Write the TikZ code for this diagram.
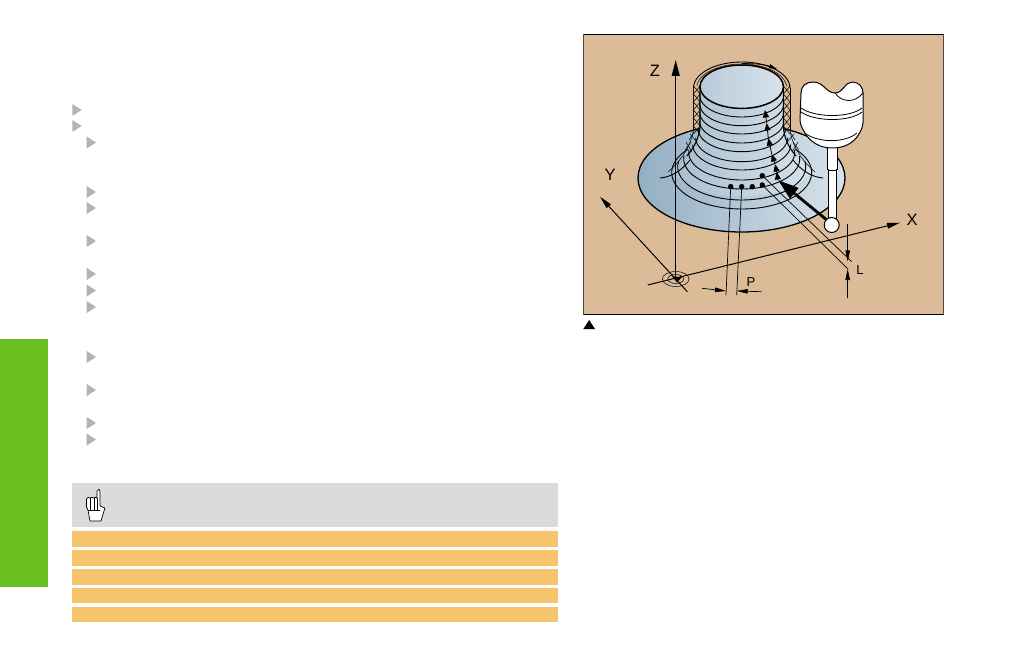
\documentclass[tikz,border=0pt]{standalone}
\usepackage{fontspec}
\setmainfont{Liberation Sans}
\usetikzlibrary{arrows.meta}
\definecolor{panelbg}{HTML}{DCBC98}
\definecolor{tabgreen}{HTML}{6ABF20}
\definecolor{rowgold}{HTML}{F6C56B}
\definecolor{notegray}{HTML}{DBDBDB}
\definecolor{bulletgray}{HTML}{B3B3B3}
\definecolor{steeldark}{HTML}{93AEC3}
\definecolor{steellight}{HTML}{D8E3EB}
\tikzset{
  bulletmark/.style={fill=bulletgray,draw=none},
  axisline/.style={line width=1pt,-{Triangle[length=16pt,width=8pt]}},
  ringline/.style={line width=0.9pt},
  hatchline/.style={line width=0.5pt},
  dimline/.style={line width=0.7pt},
  dimtip/.style={-{Triangle[length=11pt,width=4.5pt]}},
  axislabel/.style={font=\fontsize{16.5}{18}\selectfont,inner sep=0pt},
  dimlabel/.style={font=\fontsize{13}{15}\selectfont,inner sep=0pt},
  pathdot/.style={circle,fill=black,inner sep=0pt,minimum size=5.5pt},
  climbtip/.style={line width=0.8pt,-{Triangle[length=7.5pt,width=6pt]}}
}
\begin{document}
\begin{tikzpicture}[x=1pt,y=-1pt]
  \useasboundingbox (0,0) rectangle (1012,655);
  \fill[white] (0,0) rectangle (1012,655);
  % left page
  \fill[tabgreen] (0,339) rectangle (48,587);
  \foreach \y in {110,126}
    \fill[bulletmark] (72.3,\y-6) -- (81.7,\y) -- (72.3,\y+6) -- cycle;
  \foreach \y in {142.5,192,208,241,274,290.5,307,357,390,423,439.5}
    \fill[bulletmark] (86.7,\y-6) -- (96,\y) -- (86.7,\y+6) -- cycle;
  \fill[notegray] (72,483) rectangle (558,527);
  \foreach \a/\b in {531/547,550/566,569/585,588/603,607/622}
    \fill[rowgold] (72,\a) rectangle (558,\b);
  % hand
  \draw[fill=white,line width=0.7pt,line join=round] (97,491) .. controls (98,488.5) and (100,488.5) .. (100,491)
    -- (100,506) -- (105,508) -- (104,511) -- (101,521) -- (90,521) -- (88,510) -- (86.5,507) -- (86.5,499)
    .. controls (87,497) and (89,497) .. (90,498) .. controls (91,497) and (93,497) .. (94,498)
    .. controls (95,497) and (96,497) .. (97,498) -- cycle;
  \draw[line width=0.6pt] (90,498) -- (90,510) (94,498) -- (94,510) (97,498) -- (97,510) (88,510) -- (100,510);
  % panel
  \draw[fill=panelbg,line width=0.8pt,draw=black!70] (583.5,34.5) rectangle (943,314);
  \draw[line width=0.8pt] (583.5,34.5) -- (943,34.5) (583.5,314) -- (943,314);
  \fill[black] (583.3,329) -- (589.2,320) -- (595,329) -- cycle;
  % flange
  \draw[line width=1.3pt,left color=steeldark,right color=steellight] (741.5,178) ellipse [x radius=103.5,y radius=54];
  % cutter envelope behind the neck
  \foreach \y in {86,94,...,126} {
    \draw[hatchline] (693.5,\y) -- (700,\y+8) (700,\y) -- (693.5,\y+8);
    \draw[hatchline] (783.5,\y) -- (790,\y+8) (790,\y) -- (783.5,\y+8);
  }
  \draw[ringline] (693.5,88) -- (693.5,130) (790,88) -- (790,130);
  \draw[ringline] plot[domain=180:360,samples=50] ({741.7+48.2*cos(\x)},{88+26*sin(\x)});
  \draw[hatchline] plot[domain=185:355,samples=50] ({741.7+45*cos(\x)},{88+24*sin(\x)});
  \draw[-{Triangle[length=8pt,width=4pt]},line width=0.7pt] (741.7,63.5) .. controls (755,63.5) and (765,64.5) .. (777,69);
  % neck
  \path[left color=steeldark!70!steellight,right color=steellight]
    (700,87) -- (700,127) .. controls (698,145) and (688,160) .. (672,170)
    .. controls (690,205) and (793,205) .. (812,170)
    .. controls (795,160) and (785,145) .. (783.4,127) -- (783.4,87) -- cycle;
  \draw[line width=1.1pt] (700,87) -- (700,127) .. controls (699,138) and (694,148) .. (687,156);
  \draw[line width=1.1pt] (783.4,87) -- (783.4,127) .. controls (784,138) and (789,148) .. (796,156);
  % lower envelope of the flare
  \draw[hatchline] (693.5,130) .. controls (691,145) and (682,160) .. (668,172);
  \draw[hatchline] (790,130) .. controls (792,145) and (801,160) .. (815,172);
  \foreach \x/\y/\u/\v in {694/132/689/140,690/134/697/142,691/142/685/150,686/142/692/152,
                           790/132/795/140,794/134/787/142,793/142/799/150,798/142/792/152}
    \draw[hatchline] (\x,\y) -- (\u,\v);
  % tool path rings
  \foreach \b/\r/\e in {117/42/0,125.7/42/0,134/42/0,143/42.2/0,151.7/43.5/0,161.7/46/0,170/49/0,180/53/5,189/58/5,200/64/10,209/70/40} {
    \draw[ringline] plot[domain=-\e:180+\e,samples=50] ({741.7+\r*cos(\x)},{\b-\r*0.52+\r*0.52*sin(\x)});
  }
  \draw[ringline] (660,178) .. controls (672,177) and (682,170) .. (690,160);
  \draw[ringline] (823,178) .. controls (811,177) and (801,170) .. (793,160);
  % top face
  \draw[line width=1.5pt,left color=steeldark!45!steellight,right color=steellight] (741.7,86.7) ellipse [x radius=41.7,y radius=21.7];
  % axes
  \coordinate (origin) at (675.7,279);
  \coordinate (ztip) at (675.7,60);
  \coordinate (xtail) at (647.7,285);
  \coordinate (xtip) at (900,222.7);
  \coordinate (ytail) at (687.3,291.7);
  \coordinate (ytip) at (600,196.7);
  \draw[axisline] (origin) -- (ztip);
  \draw[axisline,-{Triangle[length=13pt,width=5.5pt]}] (xtail) -- (xtip);
  \draw[axisline,-{Triangle[length=13pt,width=5.5pt]}] (ytail) -- (ytip);
  \draw[line width=0.5pt] (origin) ellipse [x radius=13.3,y radius=7.5];
  \draw[line width=0.5pt] (origin) ellipse [x radius=8,y radius=4.5];
  \fill[black] (672,276.5) -- (682,277) -- (677,282.5) -- cycle;
  \node[axislabel] (zlabel) at (655,70.7) {Z};
  \node[axislabel] (ylabel) at (610,175) {Y};
  \node[axislabel] (xlabel) at (912,220) {X};
  % probe
  \draw[fill=white,line width=1pt,line join=round] (827,146) -- (827,170) -- (828,170) -- (828,220) -- (836,220) -- (836,170) -- (837,170) -- (837,146) -- cycle;
  \draw[line width=0.7pt] (828,170) -- (836,170);
  \draw[fill=white,line width=1pt,line join=round] (801,93)
    .. controls (801,86) and (806,82) .. (813,82)
    .. controls (824,82) and (826,93) .. (835,93)
    .. controls (843,93) and (845,82) .. (852,82)
    .. controls (859,82) and (863,87) .. (863,93)
    -- (863,123) .. controls (862,130) and (860,132) .. (857,137)
    .. controls (850,146) and (840,148) .. (832,148)
    .. controls (820,148) and (810,142) .. (805,133)
    .. controls (802,128) and (800,124) .. (800,120) -- cycle;
  \draw[line width=0.8pt] (835,93) .. controls (842,103) and (855,103) .. (863,93);
  \draw[line width=0.8pt] (801,108) .. controls (815,118) and (850,118) .. (862,108);
  \draw[line width=0.8pt] (801,112) .. controls (815,122) and (850,122) .. (862,112);
  \draw[line width=0.8pt] (806,134) .. controls (820,143) and (845,143) .. (857,133);
  \node[circle,draw,fill=white,line width=1pt,minimum size=15pt,inner sep=0pt] (ball) at (831.7,225) {};
  % feed arrow
  \coordinate (feedtip) at (778,180);
  \draw[line width=2.8pt,-{Triangle[length=21pt,width=13pt]}] (ball.north west) -- (feedtip);
  % climbing path
  \coordinate (c1) at (776.7,172);
  \coordinate (c2) at (775,164);
  \coordinate (c3) at (771.7,154);
  \coordinate (c4) at (768.3,138);
  \coordinate (c5) at (766.7,123);
  \coordinate (c6) at (765,110);
  \draw[climbtip] (feedtip) -- (c1);
  \draw[climbtip] (c1) -- (c2);
  \draw[climbtip] (c2) -- (c3);
  \draw[climbtip] (c3) -- (c4);
  \draw[climbtip] (c4) -- (c5);
  \draw[climbtip] (c5) -- (c6);
  % points and reference lines
  \node[pathdot] (pa) at (730.7,186.7) {};
  \node[pathdot] (pb) at (741.7,186.7) {};
  \node[pathdot] (pc) at (752.3,186.7) {};
  \node[pathdot] (pd) at (762.3,185) {};
  \node[pathdot] (pe) at (762.3,175.7) {};
  \coordinate (pafoot) at (726,295);
  \coordinate (pbfoot) at (736.7,295);
  \coordinate (pefoot) at (851.7,261.7);
  \coordinate (pdfoot) at (848,269);
  \draw[dimline] (pa) -- (pafoot);
  \draw[dimline] (pb) -- (pbfoot);
  \draw[dimline] (pe) -- (pefoot);
  \draw[dimline] (pd) -- (pdfoot);
  % P and L dimensions
  \coordinate (pleft) at (702,288.3);
  \coordinate (pleftend) at (726,291);
  \coordinate (pright) at (761.7,291.7);
  \coordinate (prightend) at (736.7,291);
  \draw[dimline,dimtip] (pleft) -- (pleftend);
  \draw[dimline,dimtip] (pright) -- (prightend);
  \node[dimlabel] (plabel) at (751,282) {P};
  \coordinate (ltop) at (847.7,224.3);
  \coordinate (ltopend) at (847.7,261.5);
  \coordinate (lbot) at (847.7,298);
  \coordinate (lbotend) at (847.7,269);
  \draw[dimline,dimtip] (ltop) -- (ltopend);
  \draw[dimline,dimtip] (lbot) -- (lbotend);
  \node[dimlabel] (llabel) at (860,270) {L};
\end{tikzpicture}
\end{document}
